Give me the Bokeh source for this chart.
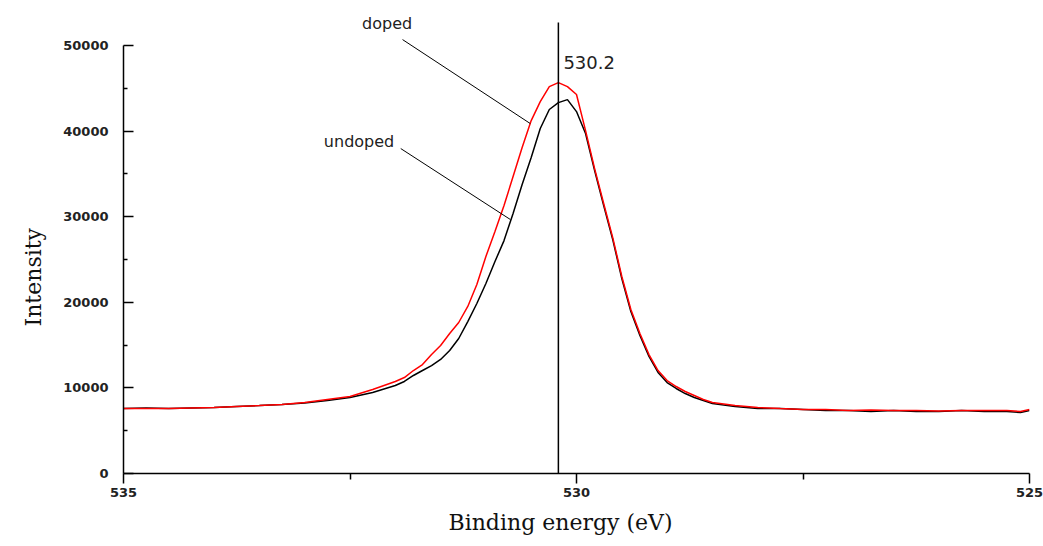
from bokeh.plotting import figure
from bokeh.models import Range1d, FixedTicker, Arrow, Label, Title, ColumnDataSource
from bokeh.embed import file_html
from bokeh.resources import INLINE

# ---- data ----
energy = [535.0, 534.75, 534.5, 534.25, 534.0, 533.75, 533.5, 533.25, 533.0, 532.75,
          532.5, 532.25, 532.0, 531.9, 531.8, 531.7, 531.6, 531.5, 531.4, 531.3,
          531.2, 531.1, 531.0, 530.9, 530.8, 530.7, 530.6, 530.5, 530.4, 530.3,
          530.2, 530.1, 530.0, 529.9, 529.8, 529.7, 529.6, 529.5, 529.4, 529.3,
          529.2, 529.1, 529.0, 528.9, 528.8, 528.7, 528.6, 528.5, 528.25, 528.0,
          527.75, 527.5, 527.25, 527.0, 526.75, 526.5, 526.25, 526.0, 525.75, 525.5,
          525.25, 525.1, 525.0]

doped = [7590, 7590, 7590, 7650, 7710, 7830, 7940, 8060, 8290, 8640,
         8990, 9810, 10750, 11210, 12030, 12730, 13900, 14950, 16350, 17640,
         19510, 22080, 25350, 28270, 31300, 34690, 38080, 41230, 43450, 45200,
         45670, 45200, 44270, 40060, 35620, 31540, 27560, 23010, 19160, 16350,
         13900, 12030, 10860, 10160, 9580, 9110, 8640, 8290, 7940, 7710,
         7590, 7480, 7480, 7360, 7420, 7360, 7360, 7300, 7360, 7360,
         7360, 7240, 7480]

undoped = [7590, 7650, 7590, 7650, 7710, 7830, 7940, 8060, 8230, 8530,
           8880, 9460, 10280, 10750, 11450, 12030, 12610, 13320, 14370, 15770,
           17750, 19860, 22190, 24760, 27210, 30370, 33760, 36910, 40300, 42520,
           43330, 43680, 42280, 39710, 35390, 31300, 27330, 22780, 18920, 16120,
           13670, 11800, 10630, 9930, 9340, 8880, 8530, 8180, 7830, 7590,
           7590, 7480, 7360, 7360, 7240, 7360, 7240, 7240, 7360, 7240,
           7240, 7120, 7360]

x_ticks = [535, 530, 525]
x_minor = [532.5, 527.5]
y_ticks = [0, 10000, 20000, 30000, 40000, 50000]
y_minor = [5000, 15000, 25000, 35000, 45000]

x_title = "Binding energy (eV)"
y_title = "Intensity"
peak_energy = 530.2
peak_label = "530.2"
series_names = ["doped", "undoped"]
name_x = [532.09, 532.40]
name_y = [52560, 38780]
leader_x0 = [531.92, 531.94]
leader_y0 = [50690, 37960]
leader_x1 = [530.51, 530.73]
leader_y1 = [40880, 29670]

# ---- figure ----
p = figure(width=1043, height=546, output_backend="svg", toolbar_location=None,
           x_range=Range1d(535, 525), y_range=Range1d(0, 55257),
           min_border_left=123, min_border_right=14, min_border_top=0,
           min_border_bottom=73, background_fill_color="white",
           border_fill_color="white")
p.outline_line_color = None
p.grid.visible = False

xa = p.xaxis[0]
xa.ticker = FixedTicker(ticks=x_ticks, minor_ticks=x_minor)
xa.major_label_text_font = "DejaVu Sans"
xa.major_label_text_font_style = "bold"
xa.major_label_text_font_size = "13px"
xa.major_label_text_color = "#222222"
xa.major_label_standoff = 4
xa.major_tick_out = 10
xa.major_tick_in = 0
xa.minor_tick_out = 6
xa.minor_tick_in = 0
xa.axis_line_width = 1.5
xa.major_tick_line_width = 1.5
xa.minor_tick_line_width = 1.5
xa.axis_line_color = "black"

ya = p.yaxis[0]
ya.ticker = FixedTicker(ticks=y_ticks, minor_ticks=y_minor)
ya.bounds = (0, 50000)
ya.major_label_text_font = "DejaVu Sans"
ya.major_label_text_font_style = "bold"
ya.major_label_text_font_size = "13px"
ya.major_label_text_color = "#222222"
ya.major_label_standoff = 15
ya.major_tick_in = 10
ya.major_tick_out = 0
ya.minor_tick_in = 4
ya.minor_tick_out = 0
ya.axis_line_width = 1.5
ya.major_tick_line_width = 1.5
ya.minor_tick_line_width = 1.5
ya.axis_line_color = "black"

# axis titles (off-centre as in the reference)
p.add_layout(Title(text=x_title, text_font="DejaVu Serif", text_font_size="22px",
                   text_font_style="normal", text_color="#111111",
                   align="left", offset=325, standoff=17), "below")
p.add_layout(Title(text=y_title, text_font="DejaVu Serif", text_font_size="22px",
                   text_font_style="normal", text_color="#111111",
                   align="left", offset=147, standoff=30), "left")

src = ColumnDataSource(dict(energy=energy, doped=doped, undoped=undoped))
p.line("energy", "undoped", source=src, line_color="black", line_width=1.5)
p.line("energy", "doped", source=src, line_color="#ff0000", line_width=1.5)

# vertical marker at the peak position (extends a little past the frame)
p.add_layout(Arrow(end=None, x_start=peak_energy, y_start=-1168,
                   x_end=peak_energy, y_end=52680,
                   line_color="black", line_width=1.5))
p.add_layout(Label(x=peak_energy, y=48000, x_offset=5, text=peak_label,
                   text_font="DejaVu Sans", text_font_size="18px",
                   text_color="#222222", text_align="left",
                   text_baseline="middle"))

# leader lines and series names
p.segment(x0=leader_x0, y0=leader_y0, x1=leader_x1, y1=leader_y1,
          line_color="black", line_width=1)
for name, nx, ny in zip(series_names, name_x, name_y):
    p.add_layout(Label(x=nx, y=ny, text=name, text_font="DejaVu Sans",
                       text_font_size="16px", text_color="#222222",
                       text_align="center", text_baseline="middle"))

open("out.html", "w").write(file_html(p, INLINE))
